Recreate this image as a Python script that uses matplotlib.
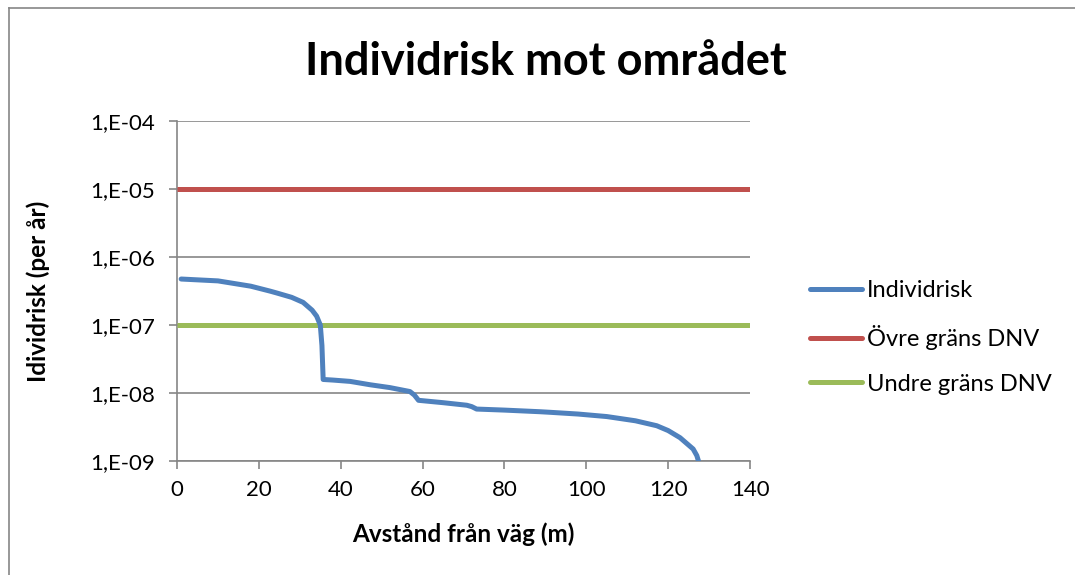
import math
import matplotlib.pyplot as plt
from matplotlib.lines import Line2D
from matplotlib.ticker import FixedLocator, FuncFormatter

# data
avstand = [1, 10, 18, 22.7, 24.4, 28, 30.8, 33, 34.1, 35, 35.4, 35.7, 38, 42.3,
           47.2, 52, 56.9, 58, 59, 65, 70.8, 72, 73.2, 80, 88.7, 91.1, 98, 105,
           112, 117.2, 120, 122.9, 126.1, 127, 127.4]
individrisk = [4.74e-7, 4.45e-7, 3.72e-7, 3.15e-7, 2.95e-7, 2.55e-7, 2.15e-7,
               1.65e-7, 1.35e-7, 1.0e-7, 5.0e-8, 1.58e-8, 1.55e-8, 1.48e-8,
               1.32e-8, 1.2e-8, 1.05e-8, 9.3e-9, 7.8e-9, 7.2e-9, 6.6e-9, 6.3e-9,
               5.8e-9, 5.6e-9, 5.3e-9, 5.2e-9, 4.9e-9, 4.5e-9, 3.9e-9, 3.3e-9,
               2.8e-9, 2.2e-9, 1.5e-9, 1.2e-9, 1.0e-9]
grans_x = [0, 140]
ovre_grans = [1e-5, 1e-5]
undre_grans = [1e-7, 1e-7]
y_ticks = [1e-9, 1e-8, 1e-7, 1e-6, 1e-5, 1e-4]
x_ticks = [0, 20, 40, 60, 80, 100, 120, 140]

plt.rcParams['font.family'] = ['Lato', 'DejaVu Sans']

fig = plt.figure(figsize=(10.75, 5.75), dpi=100)
ax = fig.add_axes([0.1647, 0.1983, 0.5330, 0.5913])

lw = 3.6
ax.plot(avstand, individrisk, color='#4F81BD', lw=lw, solid_capstyle='round',
        solid_joinstyle='round', label='Individrisk', zorder=4)
ax.plot(grans_x, ovre_grans, color='#C0504D', lw=lw, solid_capstyle='butt',
        label='Övre gräns DNV', zorder=3)
ax.plot(grans_x, undre_grans, color='#9BBB59', lw=lw, solid_capstyle='butt',
        label='Undre gräns DNV', zorder=3)

ax.set_yscale('log')
ax.set_xlim(0, 140)
ax.set_ylim(1e-9, 1e-4)
ax.yaxis.set_major_locator(FixedLocator(y_ticks))
ax.yaxis.set_minor_locator(FixedLocator([]))
ax.yaxis.set_major_formatter(FuncFormatter(lambda v, p: '1,E-%02d' % round(-math.log10(v))))
ax.set_xticks(x_ticks)

ax.grid(axis='y', color='#868686', lw=1.2)
ax.set_axisbelow(True)
for s in ['top', 'right']:
    ax.spines[s].set_visible(False)
for s in ['left', 'bottom']:
    ax.spines[s].set_color('#868686')
    ax.spines[s].set_linewidth(1.2)
ax.tick_params(axis='both', colors='#868686', length=6, width=1.2, labelsize=16,
               labelcolor='black')
ax.tick_params(axis='y', pad=10)
ax.tick_params(axis='x', pad=8)

ax.set_xlabel('Avstånd från väg (m)', fontsize=17.5, fontweight='bold')
ax.set_ylabel('Idividrisk (per år)', fontsize=17.5, fontweight='bold')
ax.xaxis.set_label_coords(0.5, -0.182)
ax.yaxis.set_label_coords(-0.222, 0.5)
fig.text(0.508, 0.893, 'Individrisk mot området', ha='center', va='center',
         fontsize=32.5, fontweight='bold')

handles = [Line2D([], [], color=c, lw=lw, solid_capstyle='round')
           for c in ['#4F81BD', '#C0504D', '#9BBB59']]
fig.legend(handles, ['Individrisk', 'Övre gräns DNV', 'Undre gräns DNV'],
           loc='center left', bbox_to_anchor=(0.734, 0.413), frameon=False,
           fontsize=17, handlelength=2.2, handletextpad=0.2, labelspacing=1.0)

# chart border (top and left visible)
fig.add_artist(Line2D([9 / 1075, 1], [1 - 8 / 575, 1 - 8 / 575], color='#868686', lw=1.2))
fig.add_artist(Line2D([9 / 1075, 9 / 1075], [0, 1 - 8 / 575], color='#868686', lw=1.2))

fig.savefig('out.png', dpi=100)
